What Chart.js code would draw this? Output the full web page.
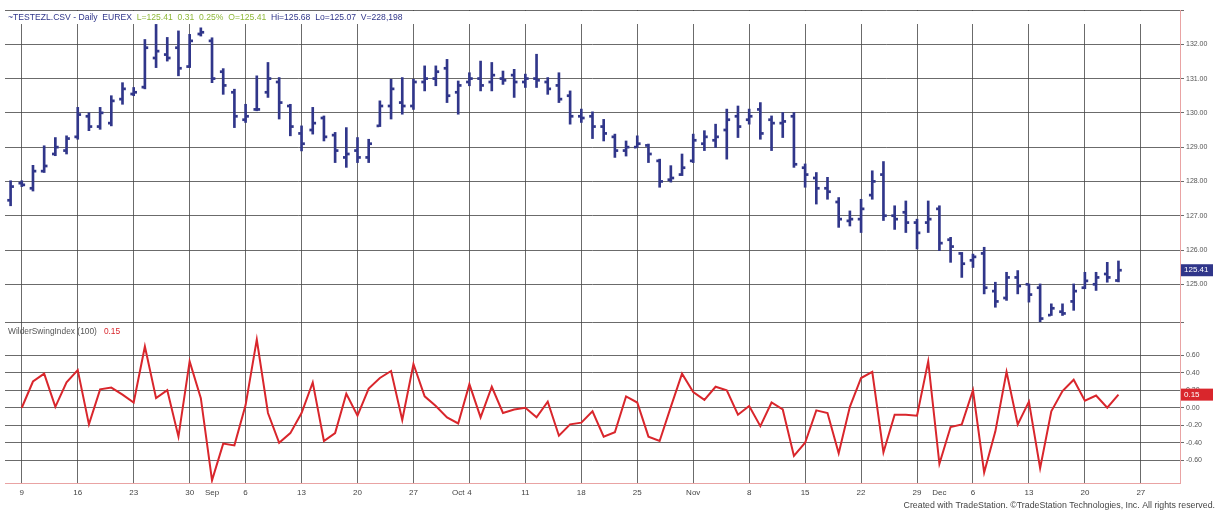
<!DOCTYPE html>
<html>
<head>
<meta charset="utf-8">
<script src="https://cdn.jsdelivr.net/npm/chart.js@4"></script>
<style>
  html, body { margin: 0; background: #fff; }
</style>
</head>
<body>
<canvas id="chart" width="1222" height="524"></canvas>
<script>
// trading days, 2004 (last five are empty future slots)
const dates = [
  '08-06','08-09','08-10','08-11','08-12','08-13','08-16','08-17','08-18','08-19','08-20',
  '08-23','08-24','08-25','08-26','08-27','08-30','08-31',
  '09-01','09-02','09-03','09-06','09-07','09-08','09-09','09-10','09-13','09-14','09-15','09-16','09-17',
  '09-20','09-21','09-22','09-23','09-24','09-27','09-28','09-29','09-30',
  '10-01','10-04','10-05','10-06','10-07','10-08','10-11','10-12','10-13','10-14','10-15',
  '10-18','10-19','10-20','10-21','10-22','10-25','10-26','10-27','10-28','10-29',
  '11-01','11-02','11-03','11-04','11-05','11-08','11-09','11-10','11-11','11-12',
  '11-15','11-16','11-17','11-18','11-19','11-22','11-23','11-24','11-25','11-26','11-29','11-30',
  '12-01','12-02','12-03','12-06','12-07','12-08','12-09','12-10','12-13','12-14','12-15','12-16','12-17',
  '12-20','12-21','12-22','12-23','12-24','12-27','12-28','12-29','12-30'
];

const opens = [
  127.45,127.95,127.80,128.30,128.80,128.90,129.30,129.90,129.60,129.70,130.40,
  130.55,130.75,131.60,131.70,131.90,131.35,132.30,
  132.10,131.20,130.60,129.80,130.10,130.60,130.90,130.20,129.40,129.50,129.85,129.35,128.70,
  128.90,128.70,129.62,130.20,130.30,130.20,130.90,131.00,131.30,
  130.60,130.90,131.00,130.90,131.00,131.10,130.90,131.00,130.90,130.80,130.50,
  129.90,129.90,129.60,129.30,128.90,129.00,129.05,128.60,128.05,128.20,
  128.60,129.10,129.20,129.50,129.90,129.80,130.10,129.80,129.70,129.90,
  128.40,128.10,127.80,127.40,126.85,126.90,127.60,128.20,127.00,127.10,126.80,126.80,
  127.20,126.30,125.90,125.70,125.90,124.80,124.60,125.20,125.00,124.90,124.10,124.20,124.50,
  124.90,125.00,125.30,125.11
];
const highs = [
  128.02,128.02,128.47,129.04,129.28,129.33,130.16,130.00,130.16,130.50,130.88,
  130.74,132.14,132.58,132.20,132.39,132.29,132.48,
  132.19,131.29,130.69,130.25,131.08,131.47,131.03,130.25,129.62,130.16,129.91,129.43,129.57,
  129.28,129.23,130.35,130.98,131.03,130.98,131.37,131.37,131.56,
  130.93,131.17,131.51,131.47,131.22,131.27,131.13,131.71,131.03,131.17,130.64,
  130.11,130.03,129.81,129.38,129.18,129.33,129.09,128.65,128.46,128.80,
  129.38,129.48,129.67,130.11,130.20,130.11,130.30,129.91,130.01,130.01,
  128.51,128.26,128.12,127.53,127.14,127.48,128.31,128.58,127.29,127.43,126.90,127.43,
  127.29,126.37,125.93,125.88,126.08,125.06,125.35,125.40,125.01,125.01,124.43,124.43,125.01,
  125.35,125.35,125.64,125.68
];
const lows = [
  127.29,127.85,127.72,128.26,128.75,128.80,129.23,129.48,129.52,129.62,130.25,
  130.50,130.70,131.32,131.51,131.08,131.32,132.24,
  130.88,130.54,129.57,129.72,130.06,130.45,129.82,129.33,128.89,129.38,129.18,128.55,128.41,
  128.55,128.55,129.60,129.82,129.96,130.10,130.64,130.79,130.30,
  129.96,130.79,130.64,130.64,130.83,130.45,130.74,130.74,130.54,130.30,129.67,
  129.72,129.25,129.18,128.70,128.74,128.99,128.55,127.83,127.98,128.17,
  128.55,128.90,128.99,128.65,129.28,129.67,129.23,128.90,129.28,128.41,
  127.83,127.34,127.48,126.66,126.70,126.51,127.48,126.86,126.60,126.51,126.03,126.51,
  125.98,125.64,125.20,125.49,124.72,124.33,124.53,124.72,124.48,123.85,124.09,124.09,124.24,
  124.87,124.82,125.06,125.07
];
const closes = [
  127.85,127.90,128.30,128.45,129.00,129.25,129.95,129.60,130.00,130.35,130.70,
  130.60,131.90,131.80,131.60,131.30,132.10,132.35,
  131.00,130.80,129.90,129.90,130.10,131.00,130.30,129.60,129.10,129.70,129.30,128.90,128.80,
  128.70,129.10,130.20,130.70,130.20,130.90,131.00,131.20,130.50,
  130.80,131.00,130.80,131.10,130.95,130.90,131.00,130.95,130.70,130.40,129.90,
  129.85,129.60,129.40,128.90,129.00,129.10,128.80,128.00,128.10,128.40,
  129.20,129.30,129.30,129.80,129.60,129.90,129.40,129.70,129.75,128.50,
  128.20,127.80,127.70,126.90,126.90,127.20,128.00,127.00,126.90,126.80,126.50,126.90,
  126.20,126.10,125.60,125.80,124.90,124.50,125.20,124.95,124.70,124.00,124.30,124.15,124.80,
  125.10,125.20,125.20,125.41
];
// Wilder Swing Index (100)
const swing = [
  null,0.00,0.30,0.39,0.01,0.29,0.43,-0.19,0.21,0.23,0.15,
  0.06,0.70,0.11,0.20,-0.33,0.53,0.11,
  -0.83,-0.41,-0.43,0.03,0.78,-0.06,-0.40,-0.29,-0.06,0.29,-0.38,-0.29,0.16,
  -0.09,0.22,0.34,0.42,-0.14,0.50,0.13,0.02,-0.11,
  -0.18,0.27,-0.11,0.24,-0.06,-0.02,0.00,-0.11,0.07,-0.32,-0.19,
  -0.17,-0.04,-0.33,-0.28,0.13,0.06,-0.33,-0.38,0.01,0.39,
  0.18,0.09,0.24,0.20,-0.08,0.02,-0.21,0.06,-0.02,-0.55,
  -0.40,-0.03,-0.06,-0.52,0.01,0.34,0.41,-0.51,-0.08,-0.08,-0.09,0.53,
  -0.64,-0.22,-0.19,0.20,-0.74,-0.27,0.41,-0.19,0.07,-0.69,-0.04,0.19,0.32,
  0.08,0.14,0.00,0.15
];

const tickDates = ['08-09','08-16','08-23','08-30','09-01','09-06','09-13','09-20','09-27','10-01','10-04','10-11',
  '10-18','10-25','11-01','11-08','11-15','11-22','11-29','12-01','12-06','12-13','12-20','12-27'];
const tickLabels = ['9','16','23','30','Sep','6','13','20','27','Oct','4','11',
  '18','25','Nov','8','15','22','29','Dec','6','13','20','27'];
const priceTicks = [125, 126, 127, 128, 129, 130, 131, 132];
const swingTicks = [-0.6, -0.4, -0.2, 0, 0.2, 0.4, 0.6];

const navy = '#30368a', red = '#d9262c', pink = '#e9a3a3', gridColor = 'rgba(70,70,70,0.8)';
const fontFam = '"Liberation Sans", Arial, sans-serif';
const tickHalf = 0.03;
const last = closes.length - 1;

function isMonday(d) { return new Date('2004-' + d + 'T00:00:00Z').getUTCDay() === 1; }

const overlay = {
  id: 'overlay',
  beforeDatasetsDraw(chart) {
    const { ctx, chartArea } = chart;
    ctx.save();
    ctx.fillStyle = '#fff';
    ctx.fillRect(chartArea.left, chartArea.top + 1, chartArea.width, 13);
    ctx.restore();
  },
  afterDraw(chart) {
    const { ctx, scales } = chart;
    ctx.save();
    ctx.textBaseline = 'middle';
    ctx.font = '8.6px ' + fontFam;
    const segs = (x, y, parts) => parts.forEach(([t, c]) => { ctx.fillStyle = c; ctx.fillText(t, x, y); x += ctx.measureText(t).width; });
    segs(8, 18, [['~TESTEZL.CSV - Daily  EUREX  ', navy], ['L=125.41  0.31  0.25%  O=125.41  ', '#8fb83a'], ['Hi=125.68  Lo=125.07  V=228,198', navy]]);
    ctx.font = '8.4px ' + fontFam;
    segs(8, 332, [['WilderSwingIndex (100)   ', '#555'], ['0.15', red]]);

    // last value boxes on the right axis
    ctx.font = '8px ' + fontFam;
    const boxes = [[scales.y, closes[last], navy, closes[last].toFixed(2)], [scales.y2, swing[last], red, swing[last].toFixed(2)]];
    boxes.forEach(([s, v, c, t]) => {
      const py = s.getPixelForValue(v);
      ctx.fillStyle = c;
      ctx.fillRect(s.left + 1, py - 6, 32, 12);
      ctx.fillStyle = '#fff';
      ctx.fillText(t, s.left + 4, py);
    });

    ctx.font = '8.8px ' + fontFam;
    ctx.fillStyle = '#444';
    ctx.textAlign = 'right';
    ctx.fillText('Created with TradeStation. \u00A9TradeStation Technologies, Inc. All rights reserved.', 1215, 506);
    ctx.restore();
  }
};

const barBase = { type: 'bar', yAxisID: 'y', backgroundColor: navy, borderWidth: 0, barThickness: 2, borderSkipped: false };

new Chart(document.getElementById('chart'), {
  data: {
    labels: dates,
    datasets: [
      { ...barBase, label: 'Open', data: opens.map(o => [o - tickHalf, o + tickHalf]) },
      { ...barBase, label: 'Range', data: highs.map((h, i) => [lows[i], h]) },
      { ...barBase, label: 'Close', data: closes.map(c => [c - tickHalf, c + tickHalf]) },
      { type: 'line', label: 'WilderSwingIndex', yAxisID: 'y2', data: swing, borderColor: red, borderWidth: 2,
        pointRadius: 0, tension: 0 }
    ]
  },
  options: {
    responsive: false,
    animation: false,
    devicePixelRatio: 1,
    layout: { padding: { left: 5, top: 10, right: 0, bottom: 0 } },
    plugins: { legend: { display: false }, tooltip: { enabled: false } },
    scales: {
      x: {
        type: 'category',
        offset: true,
        grid: { offset: false, drawTicks: false, color: c => (c.tick && isMonday(dates[c.index])) ? gridColor : 'rgba(0,0,0,0)' },
        border: { color: pink },
        ticks: {
          autoSkip: false, maxRotation: 0, padding: 5, color: '#444', font: { size: 8, family: fontFam },
          callback: (v, i) => { const k = tickDates.indexOf(dates[i]); return k >= 0 ? tickLabels[k] : ''; }
        },
        afterFit: s => { s.height = 41; }
      },
      y: {
        position: 'right', stack: 'panes', stackWeight: 312,
        min: 123.9, max: 133,
        afterBuildTicks: s => { s.ticks = priceTicks.concat([133]).map(v => ({ value: v })); },
        afterFit: s => { s.width = 42; },
        grid: { color: gridColor, tickLength: 4 },
        border: { color: pink },
        ticks: { padding: 2, color: '#555', font: { size: 7, family: fontFam },
          callback: v => priceTicks.includes(v) ? v.toFixed(2) : '' }
      },
      y2: {
        position: 'right', stack: 'panes', stackWeight: 161,
        min: -0.86, max: 0.98,
        afterBuildTicks: s => { s.ticks = swingTicks.concat([0.98]).map(v => ({ value: v })); },
        afterFit: s => { s.width = 42; },
        grid: { color: gridColor, tickLength: 4 },
        border: { color: pink },
        ticks: { padding: 2, color: '#555', font: { size: 7, family: fontFam },
          callback: v => swingTicks.includes(v) ? v.toFixed(2) : '' }
      }
    }
  },
  plugins: [overlay]
});
</script>
</body>
</html>
